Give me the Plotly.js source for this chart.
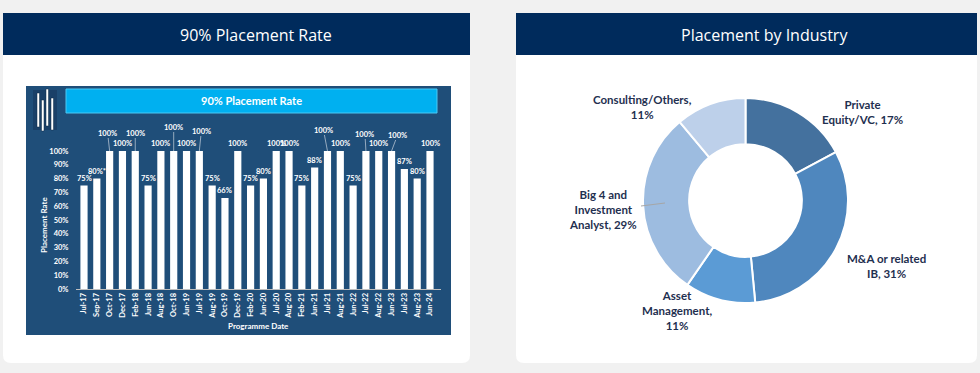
<!DOCTYPE html>
<html><head><meta charset="utf-8">
<script src="https://cdn.plot.ly/plotly-3.0.1.min.js"></script>
<style>html,body{margin:0;padding:0;background:#f1f1f1;overflow:hidden}#chart{width:980px;height:373px}</style>
</head><body><div id="chart"></div>
<script>
// ---- data ----
const programmeDates = ["Jul-17","Sep-17","Oct-17","Dec-17","Feb-18","Jun-18","Aug-18","Oct-18","Jun-19","Jul-19","Aug-19","Oct-19","Dec-19","Feb-20","Jun-20","Jul-20","Aug-20","Feb-21","Jun-21","Jul-21","Aug-21","Jun-22","Jul-22","Aug-22","Jun-23","Jul-23","Aug-23","Jun-24"];
const placementRates = [75,80,100,100,100,75,100,100,100,100,75,66,100,75,80,100,100,75,88,100,100,75,100,100,100,87,80,100];
const rateLabels = ["75%","80%*","100%","100%","100%","75%","100%","100%","100%","100%","75%","66%","100%","75%","80%","100%","100%","75%","88%","100%","100%","75%","100%","100%","100%","87%","80%","100%"];
const yTickValues = [0,10,20,30,40,50,60,70,80,90,100];
const yTickLabels = ["0%","10%","20%","30%","40%","50%","60%","70%","80%","90%","100%"];

const industries = ["Private Equity/VC","M&A or related IB","Asset Management","Big 4 and Investment Analyst","Consulting/Others"];
const industryShares = [17,31,11,29,11];
const industryLabelText = ["Private<br>Equity/VC, 17%","M&A or related<br>IB, 31%","Asset<br>Management,<br>11%","Big 4 and<br>Investment<br>Analyst, 29%","Consulting/Others,<br>11%"];

// ---- styling ----
const W = 980, H = 373;
const px = x => x / W, py = y => 1 - y / H;
const navy = "#002b5c";
const chartFont = "Lato, 'Open Sans', sans-serif";
// raised labels with leader lines: index -> [xOffset, yOffset] in px
const raised = {2:[-2,-18],4:[0,-18],7:[0,-24],9:[2,-20],19:[-4,-21],22:[-1,-17],24:[6,-16]};
const sliceColors = ["#44719e","#4f87be","#5b9bd5","#9dbce0","#bdd0ea"];
const labelPos = [[862,112],[886,266],[677,310],[603,209],[642,107]];

function cardPath(x0,y0,x1,y1,r){
  return `M${px(x0)},${py(y0)} L${px(x1)},${py(y0)} L${px(x1)},${py(y1-r)} Q${px(x1)},${py(y1)} ${px(x1-r)},${py(y1)} L${px(x0+r)},${py(y1)} Q${px(x0)},${py(y1)} ${px(x0)},${py(y1-r)} Z`;
}
function rect(x0,y0,x1,y1,fill,line){
  return {type:"rect",xref:"paper",yref:"paper",x0:px(x0),x1:px(x1),y0:py(y1),y1:py(y0),fillcolor:fill,line:line||{width:0},layer:"below"};
}
function paperText(x,y,text,font,extra){
  return Object.assign({xref:"paper",yref:"paper",x:px(x),y:py(y),xanchor:"center",yanchor:"middle",text:text,showarrow:false,font:font},extra||{});
}

const shapes = [
  {type:"path",xref:"paper",yref:"paper",path:cardPath(3,13,470,363,8),fillcolor:"#ffffff",line:{width:0},layer:"below"},
  {type:"path",xref:"paper",yref:"paper",path:cardPath(516,13,977,363,8),fillcolor:"#ffffff",line:{width:0},layer:"below"},
  rect(3,13,470,55,navy),
  rect(516,13,977,55,navy),
  rect(26,86,451,335,"#1f4e79"),
  rect(33,90,57,130,"#1a4068"),
  rect(66,89,437,113,"#00b0f0",{color:"#4cc8f4",width:1}),
  // logo bars
  rect(37,93,39.5,127,"#ffffff",{color:"#0f2a45",width:0.5}),
  rect(41.5,100,44,131,"#ffffff",{color:"#0f2a45",width:0.5}),
  rect(46,89,48.5,126,"#ffffff",{color:"#0f2a45",width:0.5}),
  rect(51,98,53.5,130,"#ffffff",{color:"#0f2a45",width:0.5}),
  // Big 4 leader line
  {type:"line",xref:"paper",yref:"paper",x0:px(641),y0:py(206),x1:px(665),y1:py(203),line:{color:"#a6a6a6",width:1}}
];

const annotations = [
  paperText(256,35,"90% Placement Rate",{family:"'Open Sans', sans-serif",size:16,color:"#ffffff"}),
  paperText(764,35,"Placement by Industry",{family:"'Open Sans', sans-serif",size:16,color:"#ffffff"}),
  paperText(251,101,"90% Placement Rate",{family:chartFont,size:11,color:"#ffffff",weight:700}),
  paperText(258,326,"Programme Date",{family:chartFont,size:8,color:"#ffffff",weight:700}),
  paperText(44,225,"Placement Rate",{family:chartFont,size:8,color:"#ffffff",weight:700},{textangle:-90})
];

programmeDates.forEach((d,i)=>{
  const r = raised[i];
  const base = {xref:"x",yref:"y",x:d,y:placementRates[i],text:rateLabels[i],font:{family:chartFont,size:7.5,color:"#ffffff",weight:700}};
  if (r) {
    annotations.push(Object.assign(base,{showarrow:true,arrowhead:0,arrowwidth:0.7,arrowcolor:"#c9d3de",ax:r[0],ay:r[1],standoff:0,borderpad:0}));
  } else {
    annotations.push(Object.assign(base,{showarrow:false,xanchor:"center",yanchor:"bottom",yshift:2,borderpad:0}));
  }
});

industries.forEach((name,i)=>{
  annotations.push(paperText(labelPos[i][0],labelPos[i][1],industryLabelText[i],{family:chartFont,size:11.5,color:"#1f3050",weight:700},{align:"center"}));
});

const data = [
  {type:"bar",x:programmeDates,y:placementRates,marker:{color:"#ffffff",line:{width:0}},xaxis:"x",yaxis:"y",hoverinfo:"skip"},
  {type:"pie",labels:industries,values:industryShares,sort:false,direction:"clockwise",rotation:0,hole:0.55,
   marker:{colors:sliceColors,line:{color:"#ffffff",width:2}},textinfo:"none",hoverinfo:"skip",
   domain:{x:[px(643),px(848)],y:[py(303),py(98)]}}
];

const layout = {
  width:W,height:H,margin:{l:0,r:0,t:0,b:0},paper_bgcolor:"#f1f1f1",plot_bgcolor:"rgba(0,0,0,0)",
  showlegend:false,hovermode:false,bargap:0.44,
  xaxis:{domain:[px(75.5),px(440.5)],anchor:"y",type:"category",tickangle:-90,ticks:"",showgrid:false,zeroline:false,
    showline:true,linecolor:"#bfbfbf",linewidth:1,tickfont:{family:chartFont,size:7.5,color:"#ffffff",weight:700},fixedrange:true},
  yaxis:{domain:[py(289),py(151)],anchor:"x",range:[0,100],tickmode:"array",tickvals:yTickValues,ticktext:yTickLabels,showgrid:false,zeroline:false,showline:false,ticks:"",
    tickfont:{family:chartFont,size:7.5,color:"#ffffff",weight:700},ticklabelstandoff:6,fixedrange:true},
  shapes:shapes,annotations:annotations
};

Plotly.newPlot("chart",data,layout,{displayModeBar:false,staticPlot:true});
</script></body></html>
